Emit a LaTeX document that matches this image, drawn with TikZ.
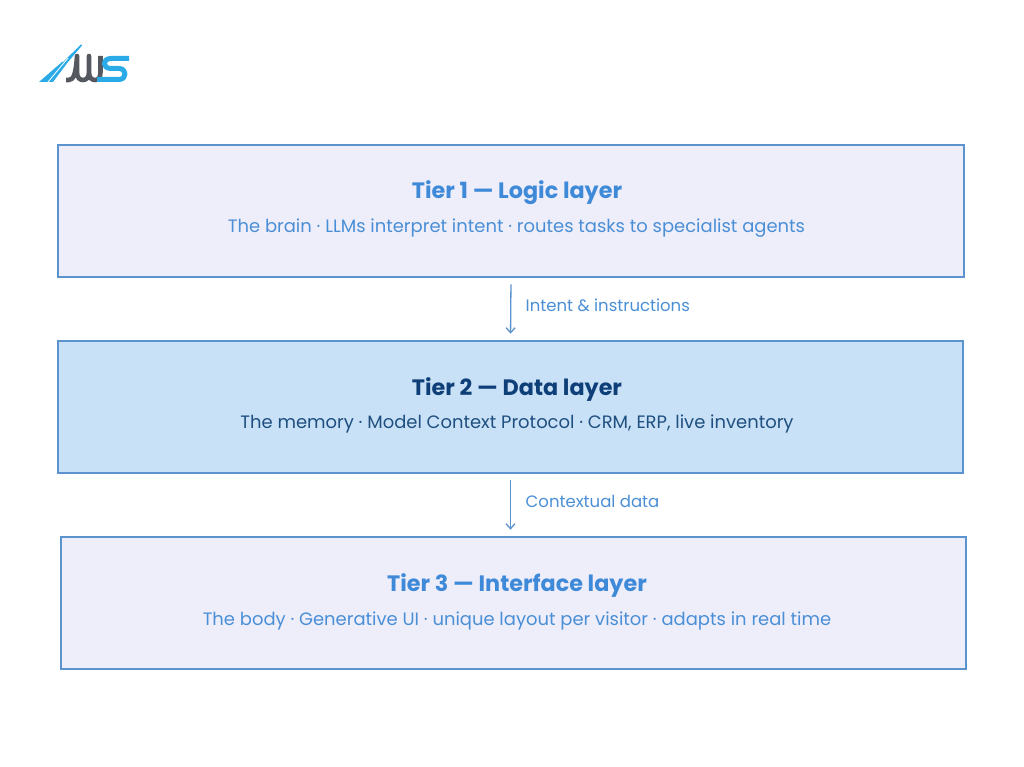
\documentclass[tikz,border=0pt]{standalone}
\usepackage{fontspec}
\setmainfont{Poppins}
\usetikzlibrary{arrows.meta}
\definecolor{edgeblue}{HTML}{5B93CE}
\definecolor{lav}{HTML}{EEEEFB}
\definecolor{midblue}{HTML}{C8E1F6}
\definecolor{titleblue}{HTML}{3F8AD8}
\definecolor{subblue}{HTML}{4A8FD6}
\definecolor{navy}{HTML}{0F3F78}
\definecolor{subnavy}{HTML}{1F4F80}
\definecolor{logoblue}{HTML}{2AAAE6}
\definecolor{logogrey}{HTML}{55595F}
\tikzset{
 tierbox/.style={draw=edgeblue,line width=1.7pt,inner sep=0pt},
 tiertitle/.style={font=\bfseries\fontsize{22.3}{26}\selectfont,inner sep=0pt,anchor=center},
 tiersub/.style={font=\fontsize{17.95}{22}\selectfont,inner sep=0pt,anchor=center},
 edgelabel/.style={font=\fontsize{16.5}{20}\selectfont,text=subblue,inner sep=0pt,anchor=west},
 flow/.style={draw=edgeblue,line width=1.3pt,-{Straight Barb[length=5pt,width=9pt]},shorten <=6.5pt,shorten >=6.5pt}
}
\begin{document}
\begin{tikzpicture}[x=1pt,y=-1pt]
\useasboundingbox[fill=white] (0,0) rectangle (1024,767);
% boxes
\node[tierbox,fill=lav,minimum width=905.5pt,minimum height=132pt] (t1) at (511,211) {};
\node[tierbox,fill=midblue,minimum width=904.5pt,minimum height=132pt] (t2) at (510.5,407) {};
\node[tierbox,fill=lav,minimum width=904.5pt,minimum height=132pt] (t3) at (513.5,603) {};
% texts
\node[tiertitle,text=titleblue] (h1) at (517,193) {Tier 1 — Logic layer};
\node[tiersub,text=subblue] (s1) at (516.5,228) {The brain · LLMs interpret intent · routes tasks to specialist agents};
\node[tiertitle,text=navy] (h2) at (517,389.5) {Tier 2 — Data layer};
\node[tiersub,text=subnavy] (s2) at (517,424) {The memory · Model Context Protocol · CRM, ERP, live inventory};
\node[tiertitle,text=titleblue] (h3) at (517,586) {Tier 3 — Interface layer};
\node[tiersub,text=subblue] (s3) at (517,620.5) {The body · Generative UI · unique layout per visitor · adapts in real time};
% connectors
\draw[flow] (t1.south) -- (t2.north);
\draw[flow] (t2.south) -- (t2.south |- t3.north);
\node[edgelabel] (l1) at (525.5,305) {Intent \& instructions};
\node[edgelabel] (l2) at (525.5,501.5) {Contextual data};
% logo
\fill[logoblue] (39,82) -- (62,62) -- (68,62) -- (53,82) -- cycle;
\fill[logoblue] (63,62) -- (81,44.5) -- (82,45.5) -- (68,62) -- cycle;
\draw[white,line width=0.8pt] (48,82) -- (68,58);
\draw[logogrey,line width=4.6pt,line join=round]
 (66,80) -- (69,80) .. controls (74,80) and (76,72) .. (77,56)
 -- (77,72) .. controls (77,78) and (80,80) .. (83,80) .. controls (86,80) and (89,78) .. (89,72) -- (89,56)
 -- (89,72) .. controls (89,78) and (92,80) .. (95,80) .. controls (98,80) and (100.5,78) .. (100.5,72) -- (100.5,56);
\draw[logoblue,line width=5pt,line join=round]
 (129,58.5) -- (111,58.5) .. controls (102,58.5) and (102,68.5) .. (111,68.5) -- (119,68.5) .. controls (127,68.5) and (127,79.5) .. (119,79.5) -- (97,79.5);
\end{tikzpicture}
\end{document}
